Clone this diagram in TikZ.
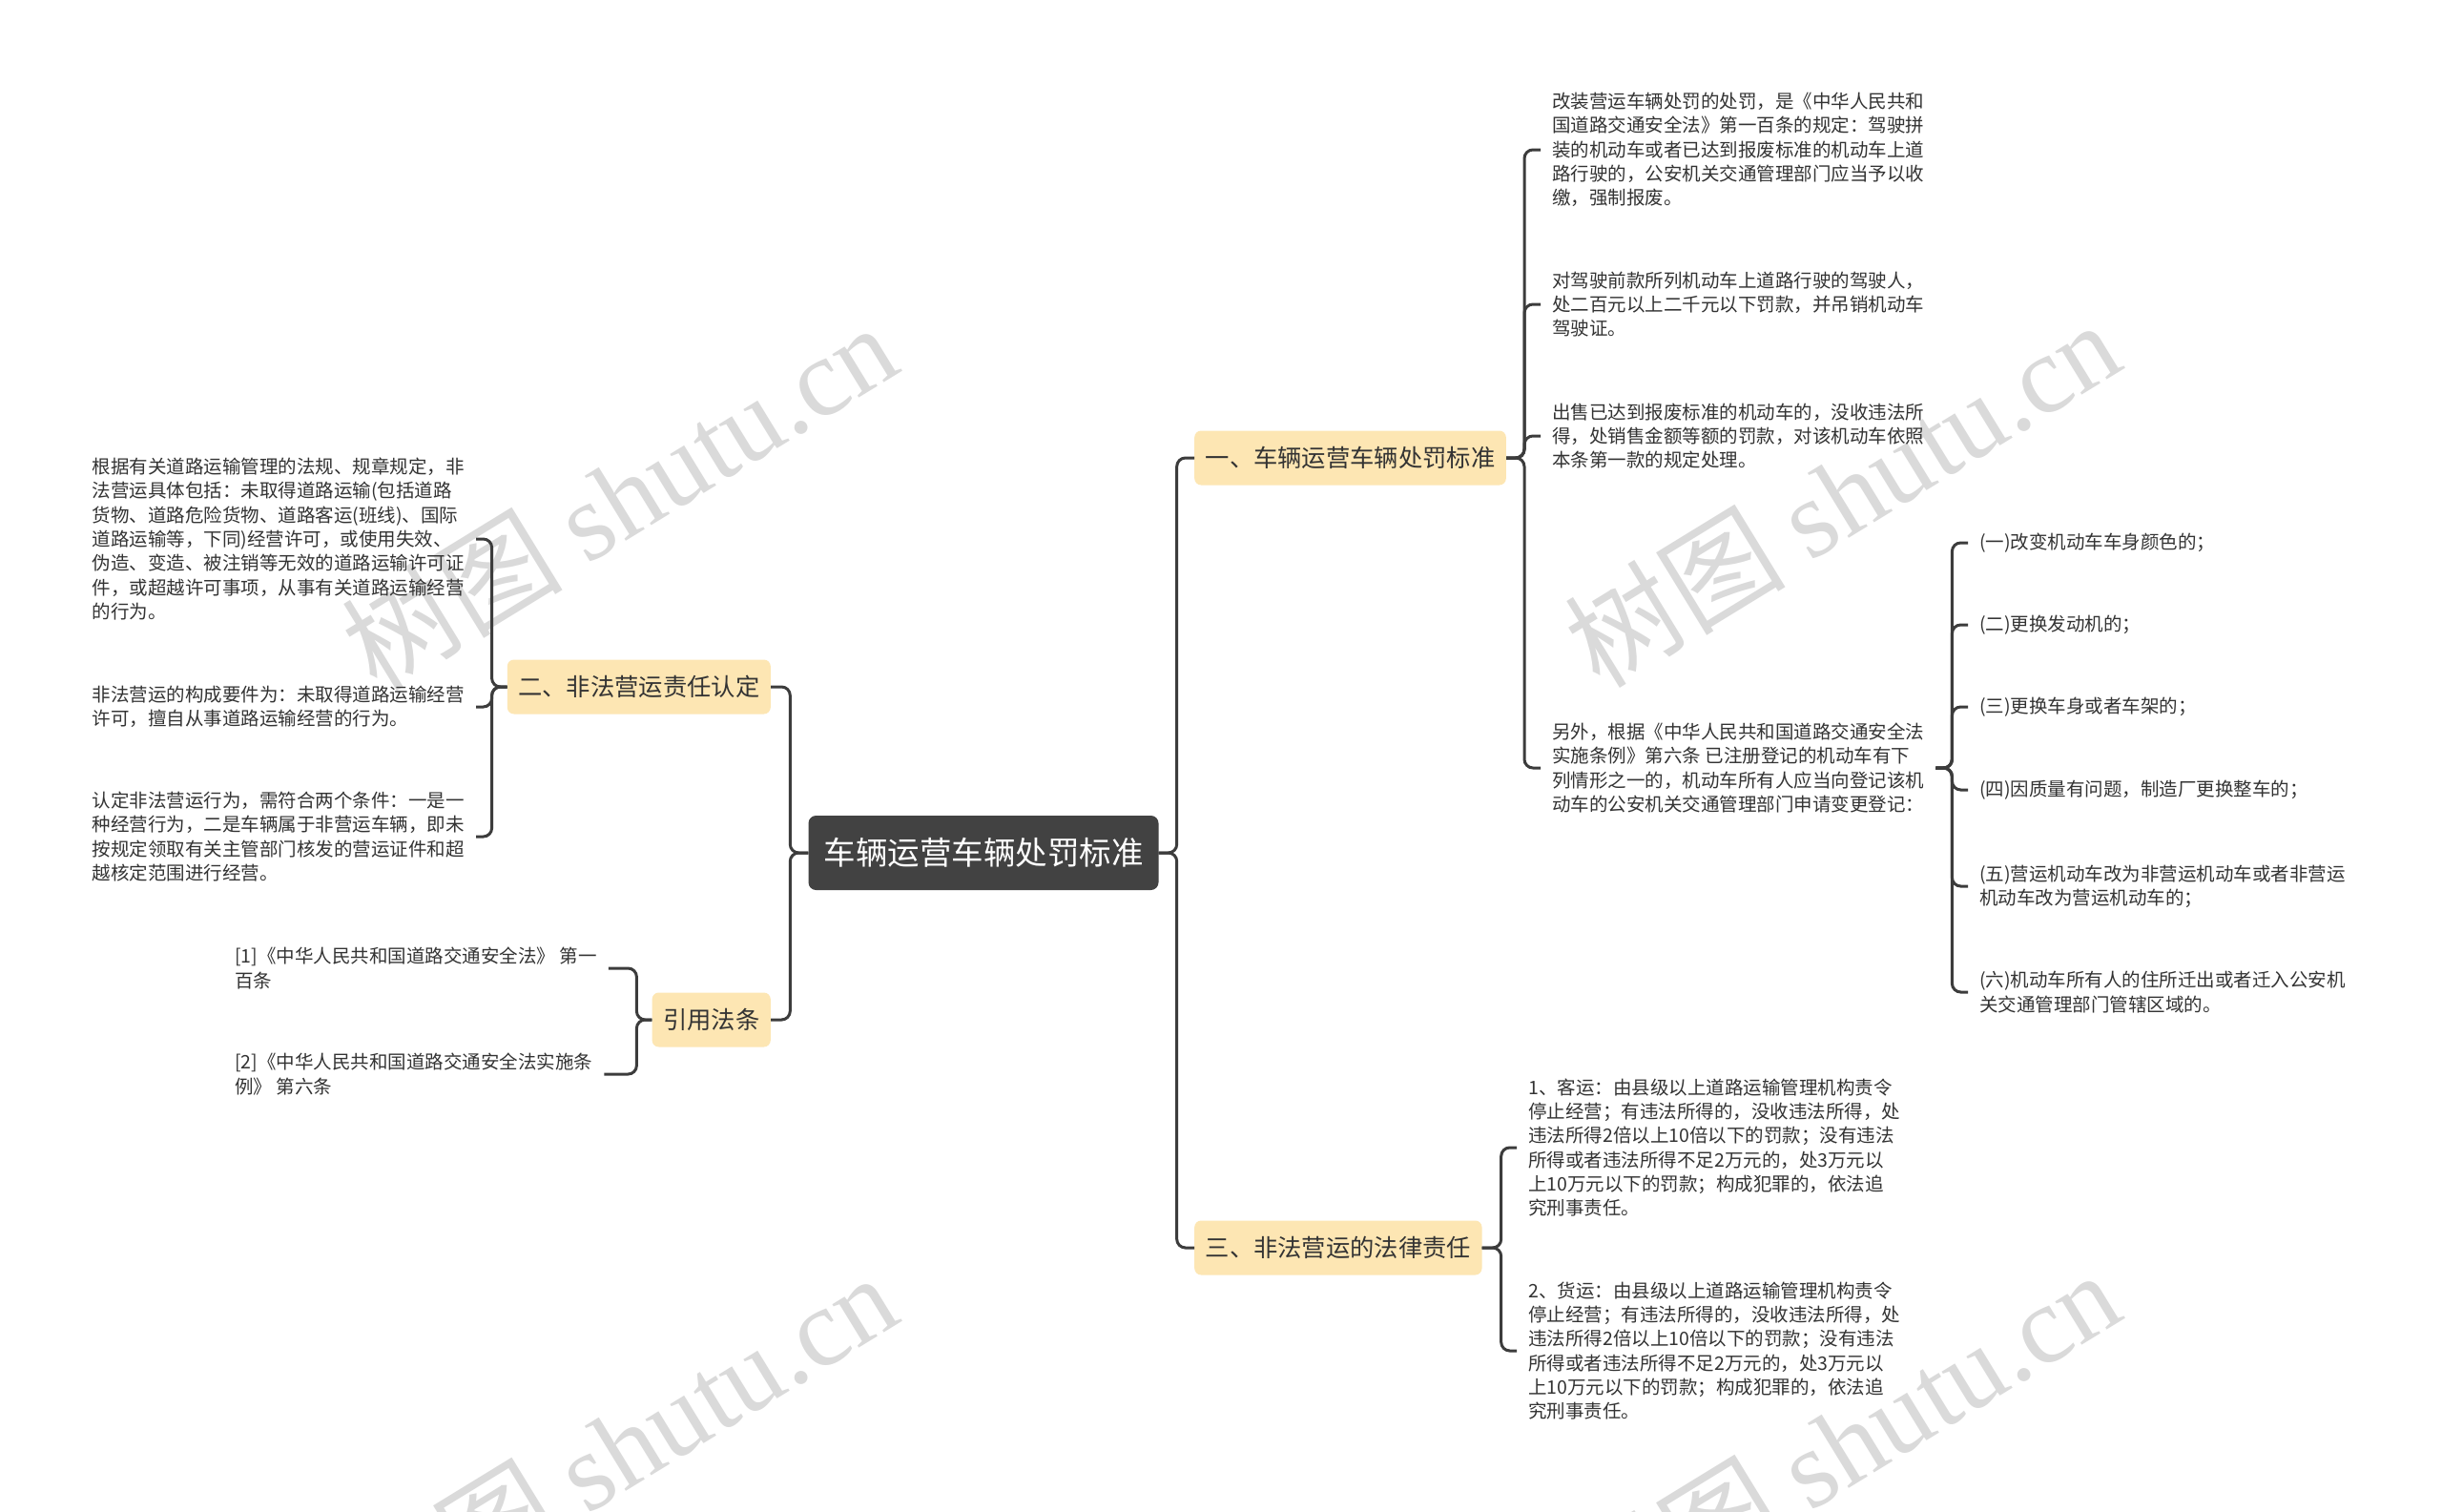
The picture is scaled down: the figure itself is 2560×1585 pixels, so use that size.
\documentclass[tikz,border=0pt]{standalone}
\usepackage{fontspec}
\setmainfont{Noto Sans CJK SC}
\newfontfamily\wmlatin{Liberation Serif}
\usetikzlibrary{calc, positioning}
\definecolor{rootfill}{HTML}{424242}
\definecolor{branchfill}{HTML}{FDE6B3}
\definecolor{linkcol}{HTML}{3C3C3C}
\definecolor{leaftext}{HTML}{333333}
\definecolor{wmgray}{HTML}{DADADA}

\begin{document}
\begin{tikzpicture}[x=1pt, y=-1pt,
  rootbox/.style={fill=rootfill, text=white, rounded corners=8pt, minimum height=78pt, inner xsep=16pt, font=\fontsize{33.5}{40}\selectfont},
  branchbox/.style={fill=branchfill, text=leaftext, rounded corners=7pt, minimum height=57pt, inner xsep=11.5pt, font=\fontsize{25.3}{30}\selectfont},
  leaf/.style={align=left, inner xsep=12pt, inner ysep=0pt, text=leaftext, font=\fontsize{19.5}{25.3}\selectfont},
  link/.style={draw=linkcol, line width=3pt, rounded corners=9pt},
  wm/.style={text=wmgray, rotate=31.5, font=\fontsize{116}{116}\selectfont}
]
\def\penaltyx{1615}
\def\subx{2063}
\def\illegalx{1590}
\def\liabx{499}
\def\statx{234}

\fill[white] (0,0) rectangle (2560,1585);
\useasboundingbox (0,0) rectangle (2560,1585);

\foreach \wx/\wy [count=\i] in {649/520, 1931/517, 649/1516, 1931/1513}
  \node[wm] (wm\i) at (\wx,\wy) {树图 {\wmlatin shutu.cn}};

\node[rootbox] (root) at (1031,894) {车辆运营车辆处罚标准};

\node[branchbox, anchor=west] (penalty) at (1252,480) {一、车辆运营车辆处罚标准};
\node[branchbox, anchor=east] (liability) at (808,720) {二、非法营运责任认定};
\node[branchbox, anchor=east] (statute) at (808,1069) {引用法条};
\node[branchbox, anchor=west] (illegal) at (1252,1308) {三、非法营运的法律责任};

\node[leaf, anchor=west] (pen1) at (\penaltyx,157) {改装营运车辆处罚的处罚，是《中华人民共和\\
国道路交通安全法》第一百条的规定：驾驶拼\\
装的机动车或者已达到报废标准的机动车上道\\
路行驶的，公安机关交通管理部门应当予以收\\
缴，强制报废。};
\node[leaf, anchor=west] (pen2) at (\penaltyx,319) {对驾驶前款所列机动车上道路行驶的驾驶人，\\
处二百元以上二千元以下罚款，并吊销机动车\\
驾驶证。};
\node[leaf, anchor=west] (pen3) at (\penaltyx,457) {出售已达到报废标准的机动车的，没收违法所\\
得，处销售金额等额的罚款，对该机动车依照\\
本条第一款的规定处理。};
\node[leaf, anchor=west] (pen4) at (\penaltyx,805) {另外，根据《中华人民共和国道路交通安全法\\
实施条例》第六条 已注册登记的机动车有下\\
列情形之一的，机动车所有人应当向登记该机\\
动车的公安机关交通管理部门申请变更登记：};

\node[leaf, anchor=west] (sub1) at (\subx,569) {(一)改变机动车车身颜色的；};
\node[leaf, anchor=west] (sub2) at (\subx,655) {(二)更换发动机的；};
\node[leaf, anchor=west] (sub3) at (\subx,741) {(三)更换车身或者车架的；};
\node[leaf, anchor=west] (sub4) at (\subx,828) {(四)因质量有问题，制造厂更换整车的；};
\node[leaf, anchor=west] (sub5) at (\subx,929) {(五)营运机动车改为非营运机动车或者非营运\\
机动车改为营运机动车的；};
\node[leaf, anchor=west] (sub6) at (\subx,1040) {(六)机动车所有人的住所迁出或者迁入公安机\\
关交通管理部门管辖区域的。};

\node[leaf, anchor=west] (ill1) at (\illegalx,1203) {1、客运：由县级以上道路运输管理机构责令\\
停止经营；有违法所得的，没收违法所得，处\\
违法所得2倍以上10倍以下的罚款；没有违法\\
所得或者违法所得不足2万元的，处3万元以\\
上10万元以下的罚款；构成犯罪的，依法追\\
究刑事责任。};
\node[leaf, anchor=west] (ill2) at (\illegalx,1416) {2、货运：由县级以上道路运输管理机构责令\\
停止经营；有违法所得的，没收违法所得，处\\
违法所得2倍以上10倍以下的罚款；没有违法\\
所得或者违法所得不足2万元的，处3万元以\\
上10万元以下的罚款；构成犯罪的，依法追\\
究刑事责任。};

\node[leaf, anchor=east] (liab1) at (\liabx,565) {根据有关道路运输管理的法规、规章规定，非\\
法营运具体包括：未取得道路运输(包括道路\\
货物、道路危险货物、道路客运(班线)、国际\\
道路运输等，下同)经营许可，或使用失效、\\
伪造、变造、被注销等无效的道路运输许可证\\
件，或超越许可事项，从事有关道路运输经营\\
的行为。};
\node[leaf, anchor=east] (liab2) at (\liabx,741) {非法营运的构成要件为：未取得道路运输经营\\
许可，擅自从事道路运输经营的行为。};
\node[leaf, anchor=east] (liab3) at (\liabx,877) {认定非法营运行为，需符合两个条件：一是一\\
种经营行为，二是车辆属于非营运车辆，即未\\
按规定领取有关主管部门核发的营运证件和超\\
越核定范围进行经营。};

\node[leaf, anchor=west] (stat1) at (\statx,1015) {[1]《中华人民共和国道路交通安全法》 第一\\
百条};
\node[leaf, anchor=west] (stat2) at (\statx,1126) {[2]《中华人民共和国道路交通安全法实施条\\
例》 第六条};

\foreach \b in {penalty, illegal}
  \draw[link] (root.east) -- ++(19,0) |- (\b.west);
\foreach \b in {liability, statute}
  \draw[link] (root.west) -- ++(-19,0) |- (\b.east);

\foreach \l in {pen1, pen2, pen3, pen4}
  \draw[link] (penalty.east) -- ++(19,0) |- (\l.west);
\foreach \l in {sub1, sub2, sub3, sub4, sub5, sub6}
  \draw[link] (pen4.east) -- ++(17,0) |- (\l.west);
\foreach \l in {ill1, ill2}
  \draw[link] (illegal.east) -- ++(20,0) |- (\l.west);
\foreach \l in {liab1, liab2, liab3}
  \draw[link] (liability.west) -- ++(-16,0) |- (\l.east);
\foreach \l in {stat1, stat2}
  \draw[link] (statute.west) -- ++(-16,0) |- (\l.east);
\end{tikzpicture}
\end{document}
